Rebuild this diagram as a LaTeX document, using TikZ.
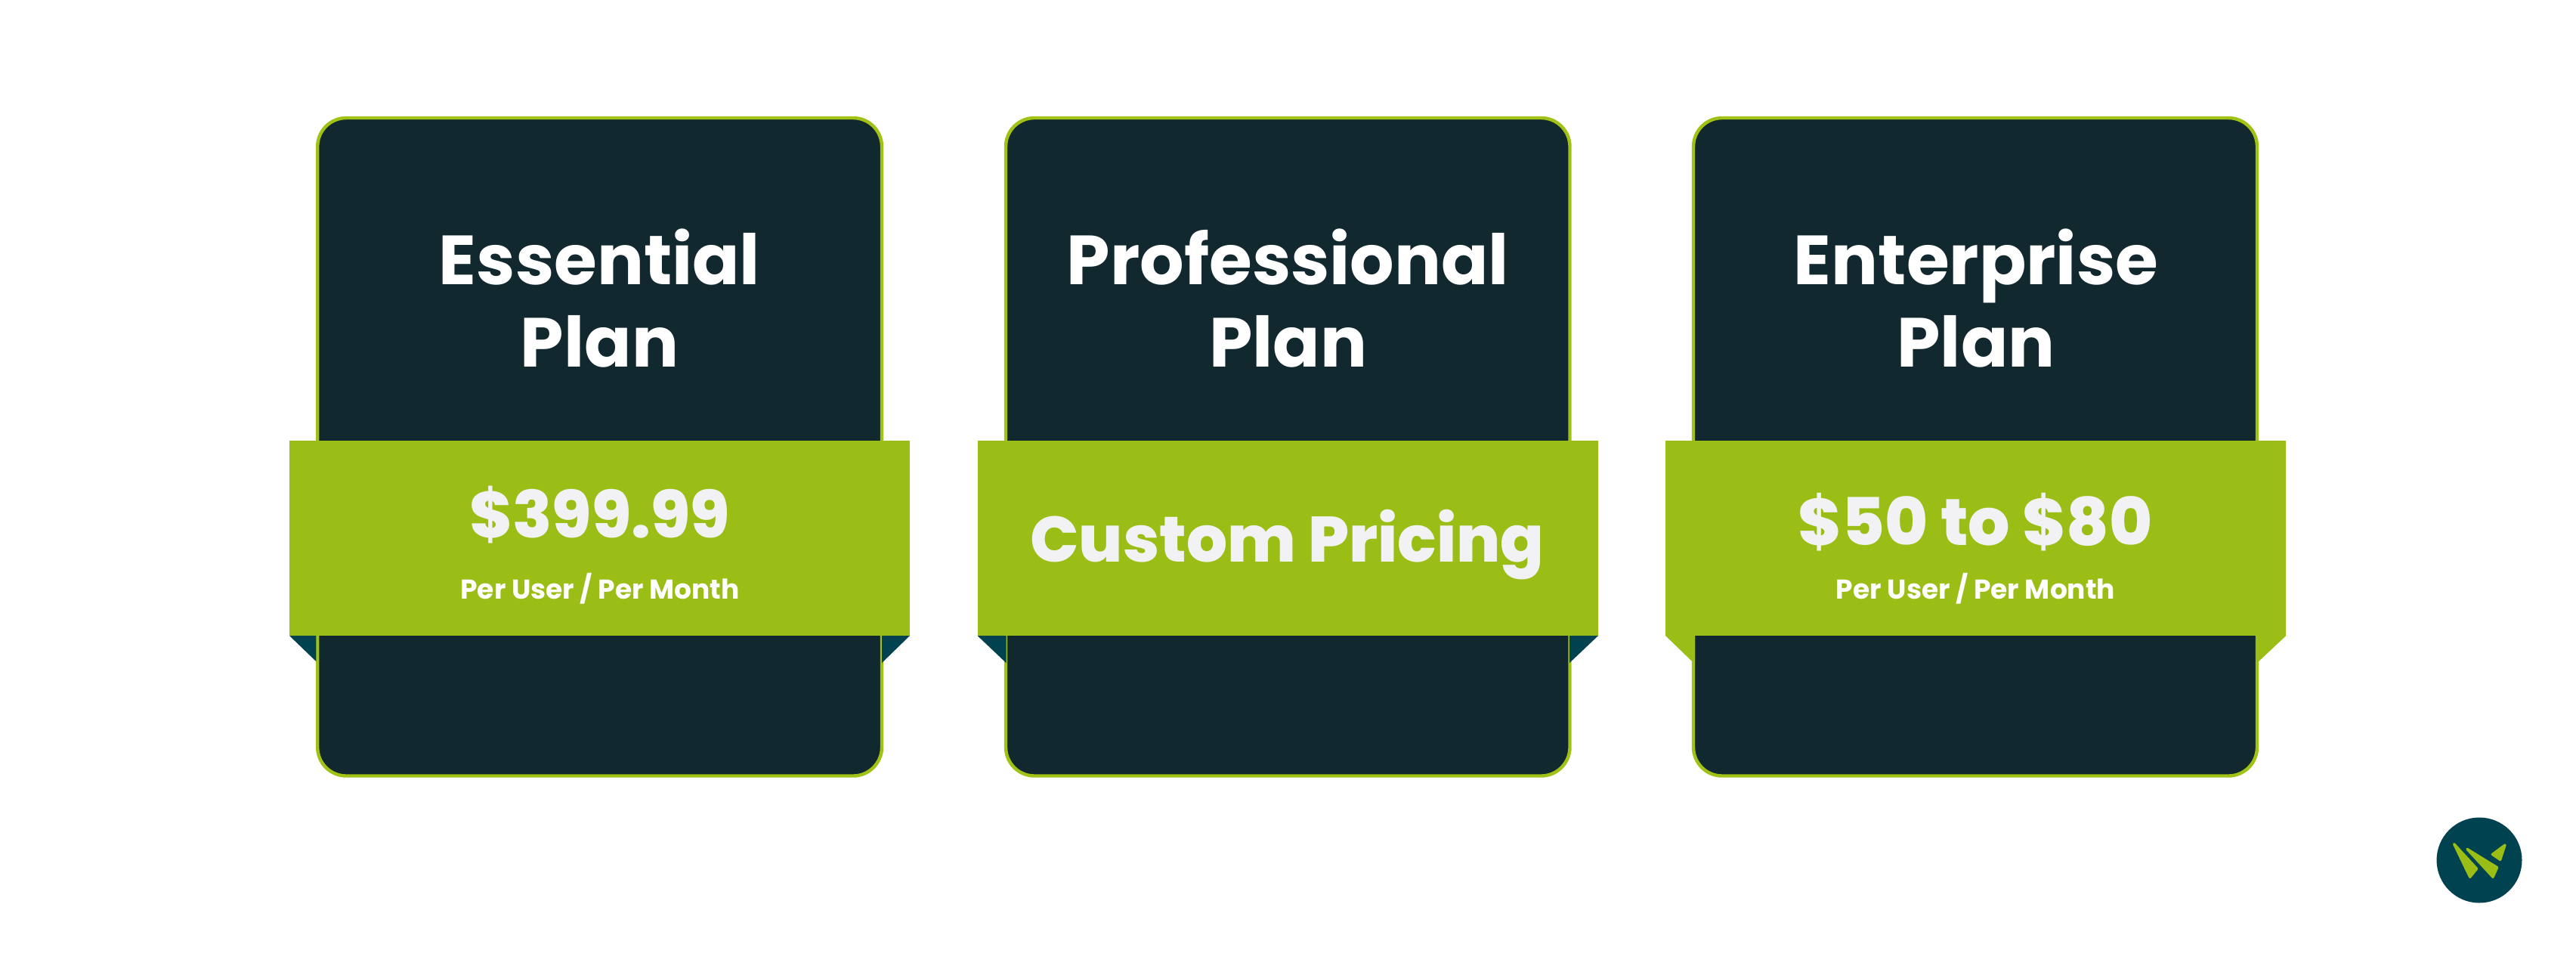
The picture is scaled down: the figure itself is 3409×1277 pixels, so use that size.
\documentclass[tikz,border=0pt]{standalone}
\usepackage{fontspec}
\setmainfont{Poppins}
\newfontfamily\pricefont{Poppins ExtraBold}
\definecolor{cardbg}{HTML}{12282F}
\definecolor{leaf}{HTML}{9ABE15}
\definecolor{edgeg}{HTML}{A0C214}
\definecolor{foldc}{HTML}{00424F}
\definecolor{soft}{HTML}{F2F1F4}
\tikzset{
 cardbox/.style={fill=cardbg,draw=edgeg,line width=4.4pt,rounded corners=38pt},
 bandbox/.style={fill=leaf,draw=none},
 foldtri/.style={fill=foldc,draw=none},
 titletxt/.style={text=white,font=\fontsize{92}{109}\selectfont\bfseries,align=center,anchor=center,inner sep=0pt},
 pricetxt/.style={text=soft,font=\fontsize{86}{86}\pricefont,anchor=base,inner sep=0pt},
 subtxt/.style={text=white,font=\fontsize{36}{36}\selectfont\bfseries,anchor=base,inner sep=0pt},
 shard/.style={fill=leaf,draw=leaf,line width=3.4pt,line join=round},
}
\begin{document}
\begin{tikzpicture}[x=1pt,y=-1pt]
\useasboundingbox[fill=white] (0,0) rectangle (3409,1277);
% card 1
\draw[cardbox] (420.2,156) rectangle (1167,1026.5);
\fill[foldtri] (383,841) -- (418.3,875) -- (418.3,841) -- cycle;
\fill[foldtri] (1204,841) -- (1167,877) -- (1167,841) -- cycle;
\fill[bandbox] (383,583) rectangle (1204,841);
\node[titletxt] (t1) at (793.5,395) {Essential\\Plan};
\node[pricetxt] (p1) at (793.5,711.5) {\$399.99};
\node[subtxt] (s1) at (794,792.5) {Per User / Per Month};
% card 2
\draw[cardbox] (1331,156) rectangle (2077.5,1026.5);
\fill[foldtri] (1293.5,841) -- (1331.5,877) -- (1331.5,841) -- cycle;
\fill[foldtri] (2115,841) -- (2077,877) -- (2077,841) -- cycle;
\fill[bandbox] (1293.5,583) rectangle (2115,841);
\node[titletxt] (t2) at (1704.5,395) {Professional\\Plan};
\node[pricetxt,font=\fontsize{85}{85}\pricefont] (p2) at (1703.5,743) {Custom Pricing};
% card 3
\draw[cardbox] (2241,156) rectangle (2987,1026.5);
\fill[leaf] (2204,841) -- (2239.3,875) -- (2243,875) -- (2243,841) -- cycle;
\fill[leaf] (3025.3,841) -- (2989,875) -- (2985,875) -- (2985,841) -- cycle;
\fill[bandbox] (2204,583) rectangle (3025.3,841);
\node[titletxt] (t3) at (2615,395) {Enterprise\\Plan};
\node[pricetxt,font=\fontsize{87}{87}\pricefont] (p3) at (2614,721.5) {\$50 to \$80};
\node[subtxt] (s3) at (2614.5,792.5) {Per User / Per Month};
% logo
\node[circle,fill=foldc,minimum size=113pt,inner sep=0pt] (logo) at (3281,1138) {};
\begin{scope}[shift={(3200,1060)},x=0.3333pt,y=-0.3333pt]
\draw[shard] (143,170) -- (233,268) -- (206,301) -- cycle;
\draw[shard] (195,190) -- (314,263) -- (297,301) -- cycle;
\draw[shard] (345,174) -- (326,232) -- (295,211) -- cycle;
\end{scope}
\end{tikzpicture}
\end{document}
